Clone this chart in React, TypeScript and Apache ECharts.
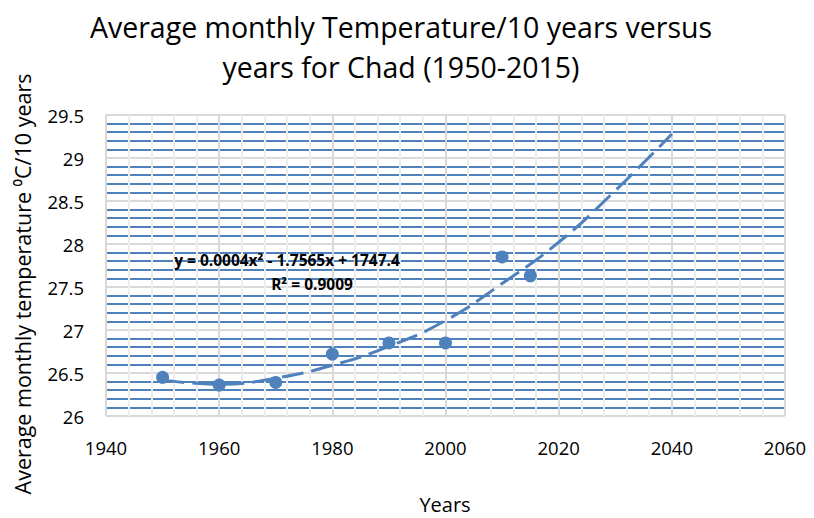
import React, { useEffect, useRef } from "react";
import * as echarts from "echarts";

const years = [1950, 1960, 1970, 1980, 1990, 2000, 2010, 2015];
const temps = [26.45, 26.36, 26.39, 26.72, 26.85, 26.85, 27.85, 27.63];

const trendYears = [1950, 1960, 1970, 1980, 1990, 2000, 2010, 2020, 2030, 2040];
const trendValues = [26.42, 26.37, 26.44, 26.59, 26.81, 27.11, 27.54, 28.02, 28.62, 29.28];

const titleLines = ["Average monthly Temperature/10 years versus", "years for Chad (1950-2015)"];
const yAxisTitle = "Average monthly temperature \u2070C/10 years";
const xAxisTitle = "Years";
const equationText = "y = 0.0004x\u00b2 - 1.7565x + 1747.4";
const r2Text = "R\u00b2 = 0.9009";

const X_MIN = 1940;
const X_MAX = 2060;
const X_MAJOR = 20;
const X_MINOR = 4;

const FONT = "Open Sans";
const BLUE = "#4f81bd";

export default function App() {
  const ref = useRef<HTMLDivElement>(null);
  useEffect(() => {
    if (!ref.current) return;
    const chart = echarts.init(ref.current, null, { renderer: "svg" });

    // vertical grid lines drawn above the blue horizontal minor lines
    const vLines: any[] = [];
    for (let v = X_MIN; v <= X_MAX; v += X_MINOR) {
      const major = (v - X_MIN) % X_MAJOR === 0;
      vLines.push({
        xAxis: v,
        lineStyle: { color: major ? "#d9d9d9" : "#ededed", width: 2, type: "solid" },
      });
    }

    chart.setOption({
      animation: false,
      backgroundColor: "#ffffff",
      textStyle: { fontFamily: FONT },
      grid: { left: 106, top: 115, width: 679, height: 301, containLabel: false },
      xAxis: {
        type: "value",
        min: X_MIN,
        max: X_MAX,
        interval: X_MAJOR,
        axisLine: { show: false },
        axisTick: { show: false },
        axisLabel: {
          color: "#000",
          fontSize: 18.5,
          fontFamily: FONT,
          margin: 22,
          formatter: (v: number) => String(v),
        },
        splitLine: { show: false },
      },
      yAxis: {
        type: "value",
        min: 26,
        max: 29.5,
        interval: 0.5,
        axisLine: { show: false },
        axisTick: { show: false },
        axisLabel: { color: "#000", fontSize: 18.5, fontFamily: FONT, margin: 22 },
        splitLine: { show: true, lineStyle: { color: "#d9d9d9", width: 2 } },
        minorTick: { show: false, splitNumber: 5 },
        minorSplitLine: { show: true, lineStyle: { color: BLUE, width: 2 } },
      },
      series: [
        {
          type: "line",
          data: [],
          silent: true,
          z: 3,
          markLine: {
            silent: true,
            symbol: "none",
            label: { show: false },
            animation: false,
            z: 3,
            data: vLines,
          },
        },
        {
          type: "line",
          data: trendYears.map((y, i) => [y, trendValues[i]]),
          smooth: true,
          showSymbol: false,
          z: 7,
          lineStyle: { color: BLUE, width: 3, type: [22, 8], cap: "butt" },
        },
        {
          type: "scatter",
          data: years.map((y, i) => [y, temps[i]]),
          symbol: "circle",
          symbolSize: 13,
          z: 8,
          itemStyle: { color: BLUE, opacity: 1 },
        },
      ],
      graphic: [
        {
          type: "text",
          x: 401,
          y: 27,
          style: {
            text: titleLines[0],
            font: `28.5px "${FONT}"`,
            fill: "#000",
            align: "center",
            verticalAlign: "middle",
          },
        },
        {
          type: "text",
          x: 401,
          y: 67,
          style: {
            text: titleLines[1],
            font: `28.5px "${FONT}"`,
            fill: "#000",
            align: "center",
            verticalAlign: "middle",
          },
        },
        {
          type: "text",
          x: 22,
          y: 284,
          rotation: Math.PI / 2,
          style: {
            text: yAxisTitle,
            font: `21.5px "${FONT}"`,
            fill: "#000",
            align: "center",
            verticalAlign: "middle",
          },
        },
        {
          type: "text",
          x: 445,
          y: 504,
          style: {
            text: xAxisTitle,
            font: `20px "${FONT}"`,
            fill: "#000",
            align: "center",
            verticalAlign: "middle",
          },
        },
        {
          type: "text",
          x: 287,
          y: 260,
          z: 10,
          style: {
            text: equationText,
            font: `bold 15.5px "${FONT}"`,
            fill: "#000",
            align: "center",
            verticalAlign: "middle",
          },
        },
        {
          type: "text",
          x: 312,
          y: 284,
          z: 10,
          style: {
            text: r2Text,
            font: `bold 15.5px "${FONT}"`,
            fill: "#000",
            align: "center",
            verticalAlign: "middle",
          },
        },
      ],
    });
    return () => chart.dispose();
  }, []);
  return (
    <div
      ref={ref}
      style={{ position: "fixed", left: 0, top: 0, width: 814, height: 518 }}
    />
  );
}
